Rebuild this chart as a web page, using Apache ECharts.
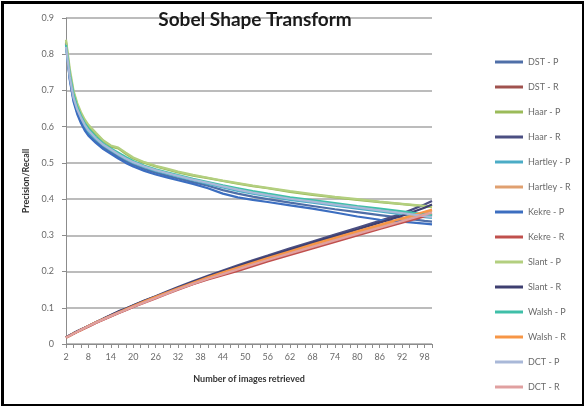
<!DOCTYPE html>
<html>
<head>
<meta charset="utf-8">
<script src="https://cdn.jsdelivr.net/npm/echarts@6/dist/echarts.min.js"></script>
<style>
  html, body { margin: 0; padding: 0; background: #fff; }
  #chart { width: 584px; height: 406px; }
</style>
</head>
<body>
<div id="chart"></div>
<script>
// Retrieval sizes where the curves were sampled
const retrieved = [2,3,4,5,6,7,8,10,12,14,16,18,20,23,26,29,32,36,40,44,48,52,56,62,68,74,80,86,92,98,100];

// Precision curves
const dstP     = [0.828,0.735,0.675,0.64,0.615,0.595,0.58,0.56,0.543,0.53,0.517,0.505,0.495,0.483,0.473,0.465,0.457,0.447,0.437,0.425,0.415,0.407,0.4,0.39,0.381,0.372,0.364,0.356,0.348,0.34,0.338];
const haarP    = [0.835,0.75,0.695,0.66,0.635,0.615,0.6,0.58,0.56,0.545,0.54,0.525,0.512,0.5,0.49,0.482,0.474,0.465,0.458,0.45,0.443,0.436,0.43,0.42,0.412,0.405,0.398,0.392,0.386,0.38,0.378];
const hartleyP = [0.82,0.74,0.68,0.645,0.62,0.6,0.585,0.565,0.548,0.535,0.522,0.51,0.5,0.488,0.478,0.47,0.462,0.452,0.442,0.432,0.423,0.415,0.408,0.398,0.39,0.382,0.374,0.366,0.358,0.35,0.348];
const kekreP   = [0.83,0.73,0.67,0.635,0.61,0.59,0.575,0.555,0.538,0.525,0.512,0.5,0.49,0.478,0.468,0.46,0.452,0.442,0.43,0.415,0.405,0.398,0.392,0.383,0.374,0.363,0.352,0.343,0.338,0.332,0.33];
const slantP   = [0.84,0.76,0.7,0.665,0.64,0.62,0.605,0.583,0.562,0.548,0.542,0.528,0.515,0.502,0.492,0.484,0.476,0.467,0.459,0.451,0.444,0.437,0.431,0.422,0.414,0.406,0.4,0.393,0.387,0.381,0.379];
const walshP   = [0.825,0.745,0.69,0.655,0.63,0.61,0.595,0.572,0.553,0.54,0.528,0.516,0.505,0.492,0.482,0.474,0.466,0.456,0.447,0.438,0.43,0.422,0.415,0.405,0.397,0.389,0.381,0.374,0.366,0.358,0.356];
const dctP     = [0.82,0.738,0.68,0.648,0.625,0.605,0.59,0.568,0.55,0.537,0.524,0.512,0.502,0.49,0.48,0.472,0.464,0.454,0.445,0.435,0.426,0.418,0.411,0.401,0.393,0.385,0.377,0.369,0.361,0.353,0.35];

// Recall curves
const dstR     = [0.018,0.023,0.028,0.034,0.039,0.044,0.049,0.059,0.068,0.077,0.086,0.094,0.103,0.116,0.128,0.14,0.152,0.166,0.18,0.193,0.207,0.22,0.232,0.25,0.268,0.286,0.303,0.32,0.337,0.355,0.36];
const haarR    = [0.018,0.024,0.03,0.035,0.04,0.045,0.05,0.06,0.07,0.08,0.09,0.098,0.107,0.12,0.132,0.145,0.157,0.173,0.188,0.203,0.217,0.231,0.244,0.264,0.283,0.302,0.321,0.34,0.36,0.385,0.395];
const hartleyR = [0.018,0.023,0.028,0.034,0.039,0.044,0.049,0.059,0.069,0.078,0.087,0.095,0.104,0.117,0.129,0.141,0.153,0.168,0.182,0.196,0.209,0.222,0.235,0.254,0.272,0.29,0.308,0.326,0.344,0.362,0.368];
const kekreR   = [0.018,0.023,0.028,0.033,0.038,0.043,0.048,0.058,0.067,0.076,0.085,0.093,0.102,0.114,0.126,0.138,0.15,0.165,0.178,0.19,0.202,0.215,0.228,0.246,0.264,0.282,0.3,0.318,0.335,0.352,0.357];
const slantR   = [0.018,0.024,0.029,0.035,0.04,0.045,0.05,0.06,0.07,0.079,0.089,0.097,0.106,0.119,0.131,0.143,0.155,0.171,0.186,0.2,0.214,0.228,0.241,0.26,0.279,0.298,0.316,0.335,0.354,0.376,0.385];
const walshR   = [0.018,0.023,0.029,0.034,0.039,0.044,0.05,0.06,0.069,0.078,0.087,0.096,0.105,0.118,0.13,0.142,0.154,0.169,0.184,0.198,0.211,0.224,0.237,0.256,0.275,0.293,0.311,0.329,0.347,0.365,0.371];
const dctR     = [0.018,0.023,0.028,0.034,0.039,0.044,0.049,0.059,0.068,0.077,0.086,0.094,0.103,0.115,0.127,0.139,0.151,0.166,0.18,0.193,0.206,0.219,0.232,0.25,0.268,0.286,0.304,0.321,0.339,0.357,0.362];

const seriesNames  = ['DST - P','DST - R','Haar - P','Haar - R','Hartley - P','Hartley - R','Kekre - P','Kekre - R','Slant - P','Slant - R','Walsh - P','Walsh - R','DCT - P','DCT - R'];
const seriesValues = [dstP, dstR, haarP, haarR, hartleyP, hartleyR, kekreP, kekreR, slantP, slantR, walshP, walshR, dctP, dctR];
const seriesColors = ['#4F6FA8','#A0524E','#9BBB59','#4B4F82','#4BACC6','#E0A070','#3C6EC0','#C0504D','#B3CF7F','#3E3F70','#3FBFA8','#F79646','#A9B8D8','#E0A0A0'];

// Category axis: every retrieval count from 2 to 100
const categories = [];
for (let n = 2; n <= 100; n++) categories.push(String(n));

const chart = echarts.init(document.getElementById('chart'));
const font = 'Lato, "Open Sans", sans-serif';

chart.setOption({
  animation: false,
  backgroundColor: '#fff',
  title: {
    text: 'Sobel Shape Transform',
    left: 250, top: 5, textAlign: 'center',
    textStyle: { fontFamily: font, fontSize: 19, fontWeight: 'bold', color: '#1a1a1a' }
  },
  graphic: [{
    type: 'rect', left: 0, top: 0, z: 100, silent: true,
    shape: { x: 1.5, y: 1.5, width: 581, height: 403 },
    style: { fill: 'none', stroke: '#000', lineWidth: 3 }
  }],
  legend: {
    orient: 'vertical', left: 490, top: 51,
    itemWidth: 28, itemHeight: 3, itemGap: 13, icon: 'rect',
    textStyle: { fontFamily: font, fontSize: 9, color: '#6a6a6a', lineHeight: 12 },
    data: seriesNames
  },
  grid: { left: 66, right: 152, top: 18, bottom: 62 },
  xAxis: {
    type: 'category', data: categories, boundaryGap: false,
    name: 'Number of images retrieved', nameLocation: 'middle', nameGap: 31,
    nameTextStyle: { fontFamily: font, fontSize: 9, fontWeight: 'bold', color: '#333' },
    axisLine: { lineStyle: { color: '#8c8c8c', width: 1 } },
    axisTick: { interval: 1, length: 4, lineStyle: { color: '#8c8c8c' } },
    axisLabel: { interval: 5, fontFamily: font, fontSize: 9, color: '#6a6a6a', margin: 9 },
    splitLine: { show: false }
  },
  yAxis: {
    type: 'value', min: 0, max: 0.9, interval: 0.1,
    name: 'Precision/Recall', nameLocation: 'middle', nameGap: 26,
    nameTextStyle: { fontFamily: font, fontSize: 9, fontWeight: 'bold', color: '#333' },
    axisLine: { show: true, lineStyle: { color: '#8c8c8c' } },
    axisTick: { show: true, length: 4, lineStyle: { color: '#8c8c8c' } },
    axisLabel: { fontFamily: font, fontSize: 9, color: '#6a6a6a', margin: 12,
      formatter: v => (v === 0 ? '0' : v.toFixed(1)) },
    splitLine: { lineStyle: { color: '#a6a6a6', width: 1.5 } }
  },
  series: seriesNames.map((name, i) => ({
    name,
    type: 'line',
    showSymbol: false,
    symbol: 'none',
    color: seriesColors[i],
    lineStyle: { width: 2.25, color: seriesColors[i] },
    data: retrieved.map((n, k) => [String(n), seriesValues[i][k]])
  }))
});
</script>
</body>
</html>
